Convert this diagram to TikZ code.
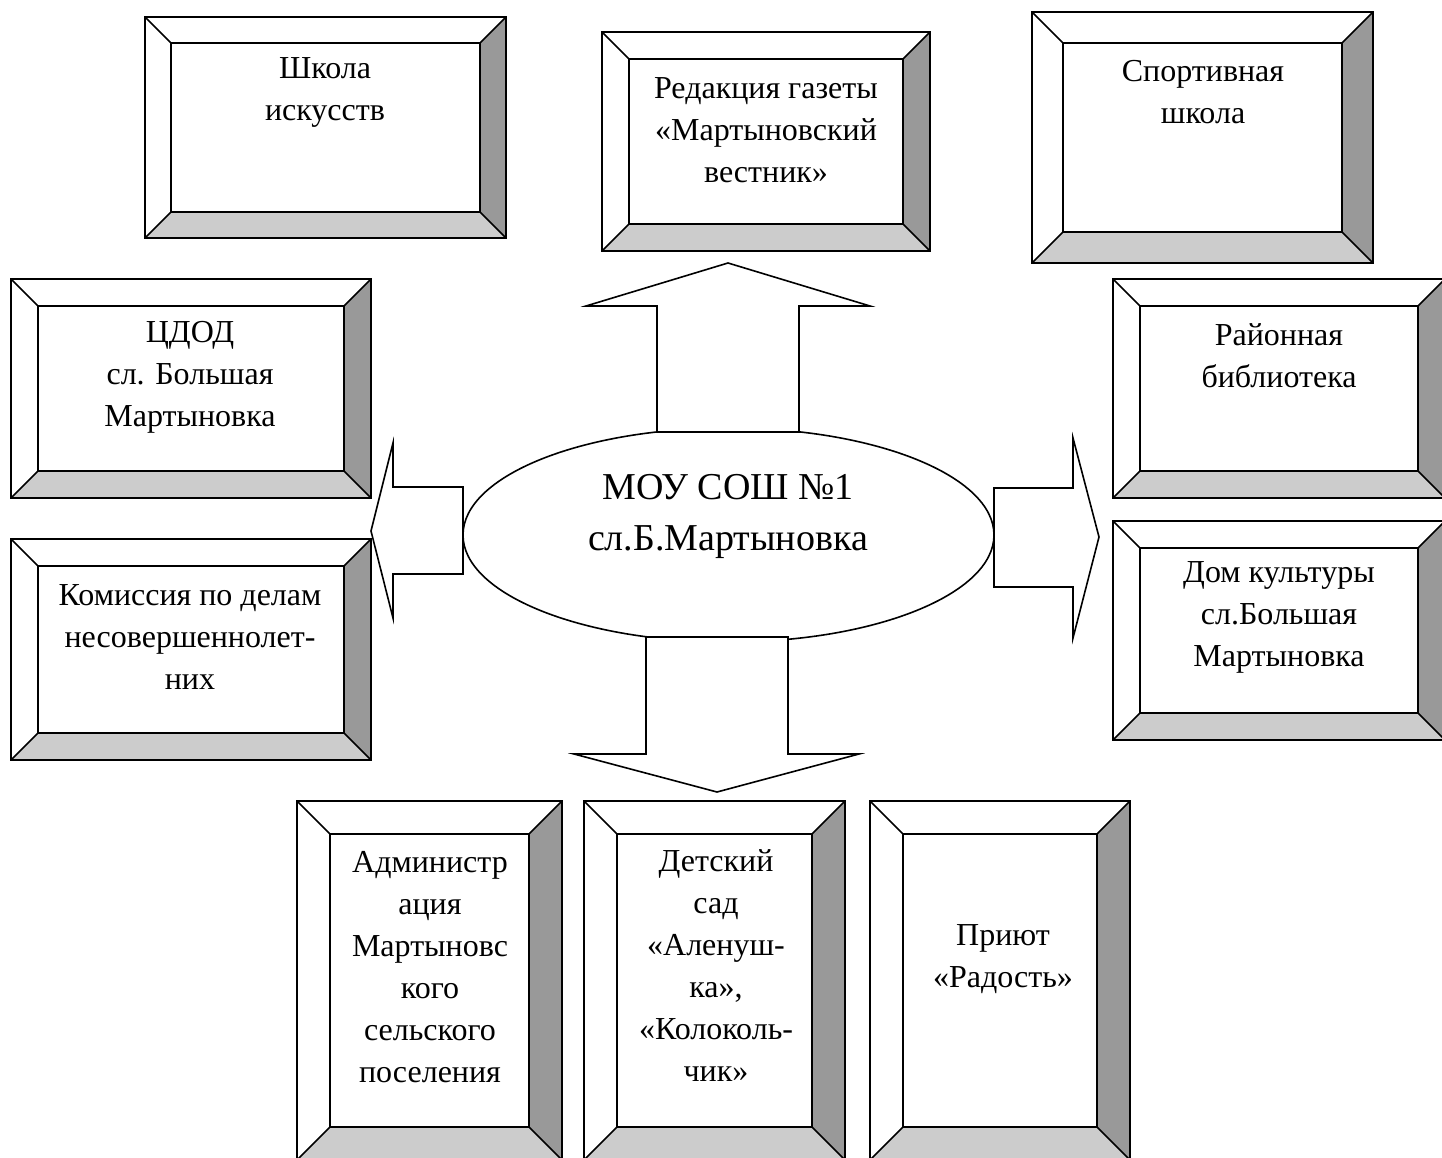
\documentclass[tikz,border=0pt]{standalone}
\usepackage{fontspec}
\setmainfont{Liberation Serif}
\usetikzlibrary{shapes.geometric}
\definecolor{bevdark}{HTML}{999999}
\definecolor{bevlight}{HTML}{CCCCCC}
\tikzset{
  frame/.style={draw=black, line width=1.6pt, line join=miter},
  innerbox/.style={draw=black, line width=1.6pt, fill=white, inner sep=0pt, outer sep=0pt, rectangle},
  txt/.style={align=center, inner sep=0pt, font=\fontsize{32}{42}\selectfont},
  bigtxt/.style={align=center, inner sep=0pt, font=\fontsize{38}{51}\selectfont},
  blockarrow/.style={draw=black, line width=1.6pt, fill=white, line join=miter},
}
\newcommand{\bevbox}[6]{%
  \fill[bevdark] (#4,#3) -- (#4,#5) -- ({#4-#6},{#5-#6}) -- ({#4-#6},{#3+#6}) -- cycle;
  \fill[bevlight] (#2,#5) -- (#4,#5) -- ({#4-#6},{#5-#6}) -- ({#2+#6},{#5-#6}) -- cycle;
  \draw[frame] (#2,#3) rectangle (#4,#5);
  \pgfmathsetmacro\bevW{#4-#2-2*#6}%
  \pgfmathsetmacro\bevH{#5-#3-2*#6}%
  \node[innerbox, fill=none, minimum width=\bevW pt, minimum height=\bevH pt, anchor=north west] (#1) at ({#2+#6},{#3+#6}) {};
  \draw[frame] (#2,#3) -- (#1.north west) (#4,#3) -- (#1.north east)
               (#2,#5) -- (#1.south west) (#4,#5) -- (#1.south east);
}
\begin{document}
\begin{tikzpicture}[x=1pt, y=-1pt]
\useasboundingbox (0,0) rectangle (1442,1158);
\fill[white] (0,0) rectangle (1442,1158);

% frames
\bevbox{shkola}{145}{17}{506}{238}{26}
\bevbox{red}{602}{32}{930}{251}{27}
\bevbox{sport}{1032}{12}{1373}{263}{31}
\bevbox{cdod}{11}{279}{371}{498}{27}
\bevbox{kom}{11}{539}{371}{760}{27}
\bevbox{bibl}{1113}{279}{1445}{498}{27}
\bevbox{dk}{1113}{521}{1445}{740}{27}
\bevbox{adm}{297}{801}{562}{1160}{33}
\bevbox{ds}{584}{801}{845}{1160}{33}
\bevbox{priut}{870}{801}{1130}{1160}{33}

% texts
\node[txt] (shkola-t) at (325,92) {Школа\\искусств};
\node[txt] (red-t) at (766,130) {Редакция газеты\\«Мартыновский\\вестник»};
\node[txt] (sport-t) at (1203,92) {Спортивная\\школа};
\node[txt] (cdod-t) at (190,377) {ЦДОД\\сл. Большая\\Мартыновка};
\node[txt] (kom-t) at (190,637) {Комиссия по делам\\несовершеннолет-\\них};
\node[txt] (bibl-t) at (1279,356) {Районная\\библиотека};
\node[txt] (dk-t) at (1279,617) {Дом культуры\\сл.Большая\\Мартыновка};
\node[txt] (adm-t) at (430,967) {Администр\\ация\\Мартыновс\\кого\\сельского\\поселения};
\node[txt] (ds-t) at (716,966) {Детский\\сад\\«Аленуш-\\ка»,\\«Колоколь-\\чик»};
\node[txt] (priut-t) at (1003,959) {Приют\\«Радость»};

% centre
\node[ellipse, draw=black, line width=1.6pt, fill=white, minimum width=531pt, minimum height=214pt, inner sep=0pt] (school) at (728.5,535) {};
\node[bigtxt] (school-t) at (728,516) {МОУ СОШ №1\\сл.Б.Мартыновка};

% block arrows
\draw[blockarrow] (657,432) -- (657,306) -- (586,306) -- (728,263) -- (870,306) -- (799,306) -- (799,432) -- cycle;
\draw[blockarrow] (646,637) -- (788,637) -- (788,754) -- (859,754) -- (717,792) -- (574,754) -- (646,754) -- cycle;
\draw[blockarrow] (463,487) -- (393,487) -- (393,443) -- (371,531) -- (393,618) -- (393,574) -- (463,574) -- cycle;
\draw[blockarrow] (994,488) -- (1073,488) -- (1073,438) -- (1099,537) -- (1073,638) -- (1073,587) -- (994,587) -- cycle;
\end{tikzpicture}
\end{document}
